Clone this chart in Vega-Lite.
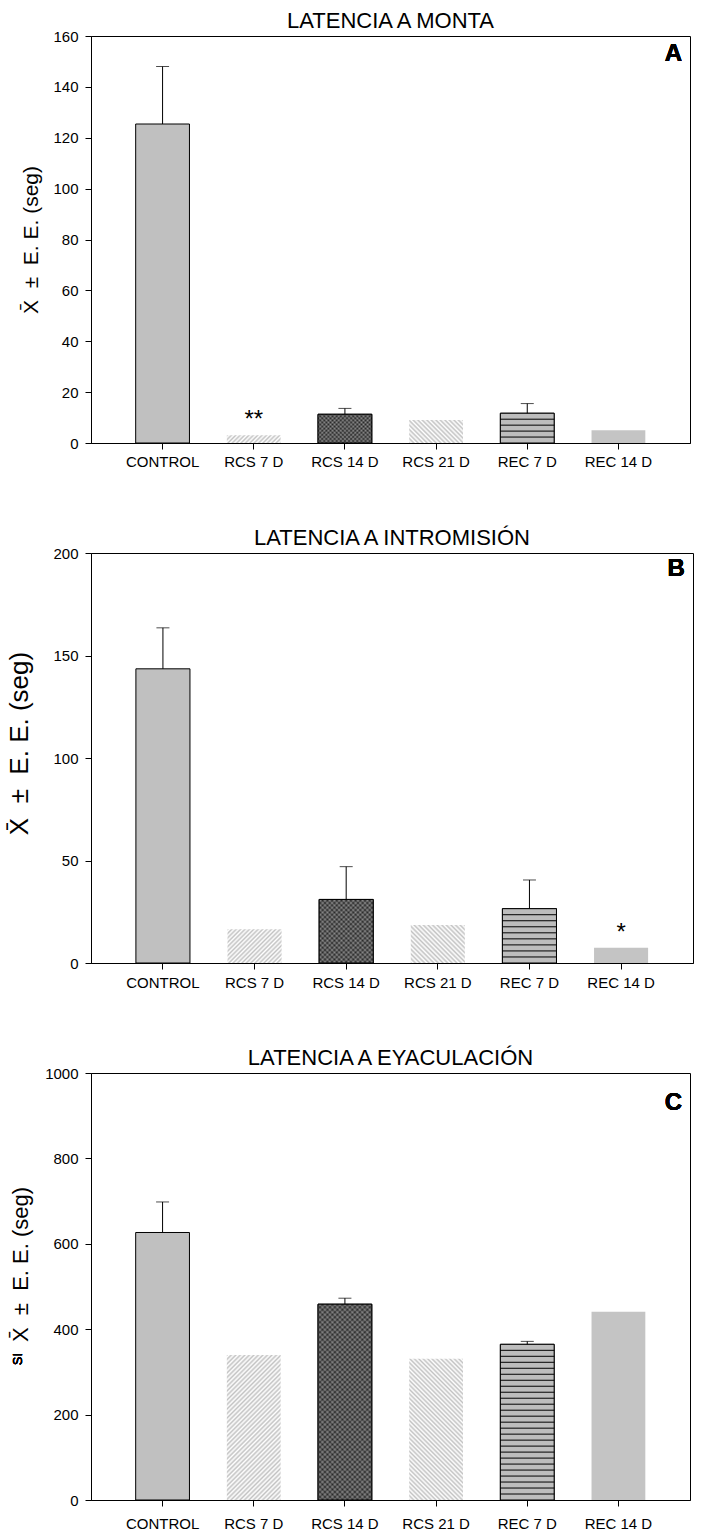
{
  "$schema": "https://vega.github.io/schema/vega-lite/v6.json",
  "background": "white",
  "padding": {"left": 5, "top": 9, "right": 5, "bottom": 5},
  "spacing": 110,
  "bounds": "flush",
  "config": {
    "font": "Liberation Sans",
    "view": {"stroke": "black", "strokeWidth": 1},
    "axis": {
      "grid": false,
      "domainColor": "black",
      "tickColor": "black",
      "tickSize": 6,
      "labelColor": "black",
      "labelFontSize": 15,
      "titleColor": "black",
      "titleFontWeight": "normal"
    },
    "axisY": {"labelPadding": 7},
    "title": {"fontSize": 22, "fontWeight": "normal", "color": "black", "offset": -4}
  },
  "datasets": {
    "monta": [
      {"grupo": "CONTROL", "media": 125.4, "sup": 148, "marca": ""},
      {"grupo": "RCS 7 D", "media": 3.0, "sup": null, "marca": "**"},
      {"grupo": "RCS 14 D", "media": 11.3, "sup": 13.6, "marca": ""},
      {"grupo": "RCS 21 D", "media": 9.0, "sup": null, "marca": ""},
      {"grupo": "REC 7 D", "media": 11.7, "sup": 15.5, "marca": ""},
      {"grupo": "REC 14 D", "media": 5.0, "sup": null, "marca": ""}
    ],
    "intromision": [
      {"grupo": "CONTROL", "media": 143.5, "sup": 163.5, "marca": ""},
      {"grupo": "RCS 7 D", "media": 16.5, "sup": null, "marca": ""},
      {"grupo": "RCS 14 D", "media": 31, "sup": 47, "marca": ""},
      {"grupo": "RCS 21 D", "media": 18.5, "sup": null, "marca": ""},
      {"grupo": "REC 7 D", "media": 26.5, "sup": 40.5, "marca": ""},
      {"grupo": "REC 14 D", "media": 7.5, "sup": null, "marca": "*"}
    ],
    "eyaculacion": [
      {"grupo": "CONTROL", "media": 626.5, "sup": 698, "marca": ""},
      {"grupo": "RCS 7 D", "media": 339.7, "sup": null, "marca": ""},
      {"grupo": "RCS 14 D", "media": 458.6, "sup": 472.6, "marca": ""},
      {"grupo": "RCS 21 D", "media": 331, "sup": null, "marca": ""},
      {"grupo": "REC 7 D", "media": 364.6, "sup": 371.5, "marca": ""},
      {"grupo": "REC 14 D", "media": 440.7, "sup": null, "marca": ""}
    ]
  },
  "vconcat": [
    {
      "width": 599,
      "height": 407,
      "title": "LATENCIA A MONTA",
      "data": {"name": "monta"},
      "encoding": {
        "x": {"field": "grupo", "type": "nominal",
              "scale": {"domain": ["CONTROL", "RCS 7 D", "RCS 14 D", "RCS 21 D", "REC 7 D", "REC 14 D"], "paddingInner": 0.41, "paddingOuter": 0.49},
              "axis": {"title": null, "labelAngle": 0, "labelPadding": 5}}
      },
      "layer": [
        {
          "mark": {"type": "bar", "strokeWidth": 1},
          "encoding": {
            "y": {"field": "media", "type": "quantitative",
                  "scale": {"domain": [0, 160], "nice": false},
                  "axis": {"values": [0, 20, 40, 60, 80, 100, 120, 140, 160], "title": "X̄\u00a0\u00a0±\u00a0\u00a0E.\u00a0E.\u00a0(seg)", "titleFontSize": 21, "titleX": -60, "titleBaseline": "middle"}},
            "fill": {"field": "grupo", "type": "nominal", "legend": null,
                     "scale": {"domain": ["CONTROL", "RCS 7 D", "RCS 14 D", "RCS 21 D", "REC 7 D", "REC 14 D"],
                               "range": ["#c0c0c0", "#ffffff", "#595959", "#ffffff", "#bdbdbd", "#c4c4c4"]}},
            "stroke": {"field": "grupo", "type": "nominal", "legend": null,
                       "scale": {"domain": ["CONTROL", "RCS 7 D", "RCS 14 D", "RCS 21 D", "REC 7 D", "REC 14 D"],
                                 "range": ["black", "transparent", "black", "transparent", "black", "transparent"]}}
          }
        },
        {
          "transform": [{"filter": "datum.grupo === 'RCS 7 D'"}],
          "mark": {"type": "bar", "fill": {"gradient": "linear", "x1": 0, "y1": 0, "x2": 1.119, "y2": 0.159, "stops": [
            {"offset": 0, "color": "#c3c3c3"}, {"offset": 0.0357, "color": "#ffffff"}, {"offset": 0.0714, "color": "#c3c3c3"}, {"offset": 0.1071, "color": "#ffffff"},
            {"offset": 0.1429, "color": "#c3c3c3"}, {"offset": 0.1786, "color": "#ffffff"}, {"offset": 0.2143, "color": "#c3c3c3"}, {"offset": 0.25, "color": "#ffffff"},
            {"offset": 0.2857, "color": "#c3c3c3"}, {"offset": 0.3214, "color": "#ffffff"}, {"offset": 0.3571, "color": "#c3c3c3"}, {"offset": 0.3929, "color": "#ffffff"},
            {"offset": 0.4286, "color": "#c3c3c3"}, {"offset": 0.4643, "color": "#ffffff"}, {"offset": 0.5, "color": "#c3c3c3"}, {"offset": 0.5357, "color": "#ffffff"},
            {"offset": 0.5714, "color": "#c3c3c3"}, {"offset": 0.6071, "color": "#ffffff"}, {"offset": 0.6429, "color": "#c3c3c3"}, {"offset": 0.6786, "color": "#ffffff"},
            {"offset": 0.7143, "color": "#c3c3c3"}, {"offset": 0.75, "color": "#ffffff"}, {"offset": 0.7857, "color": "#c3c3c3"}, {"offset": 0.8214, "color": "#ffffff"},
            {"offset": 0.8571, "color": "#c3c3c3"}, {"offset": 0.8929, "color": "#ffffff"}, {"offset": 0.9286, "color": "#c3c3c3"}, {"offset": 0.9643, "color": "#ffffff"},
            {"offset": 1, "color": "#c3c3c3"}]}},
          "encoding": {"y": {"field": "media", "type": "quantitative"}}
        },
        {
          "transform": [{"filter": "datum.grupo === 'RCS 14 D'"}],
          "mark": {"type": "bar", "fill": {"gradient": "linear", "x1": 0, "y1": 0, "x2": 1.194, "y2": 0.638, "stops": [
            {"offset": 0, "color": "#262626"}, {"offset": 0.025, "color": "#8c8c8c"}, {"offset": 0.05, "color": "#262626"}, {"offset": 0.075, "color": "#8c8c8c"},
            {"offset": 0.1, "color": "#262626"}, {"offset": 0.125, "color": "#8c8c8c"}, {"offset": 0.15, "color": "#262626"}, {"offset": 0.175, "color": "#8c8c8c"},
            {"offset": 0.2, "color": "#262626"}, {"offset": 0.225, "color": "#8c8c8c"}, {"offset": 0.25, "color": "#262626"}, {"offset": 0.275, "color": "#8c8c8c"},
            {"offset": 0.3, "color": "#262626"}, {"offset": 0.325, "color": "#8c8c8c"}, {"offset": 0.35, "color": "#262626"}, {"offset": 0.375, "color": "#8c8c8c"},
            {"offset": 0.4, "color": "#262626"}, {"offset": 0.425, "color": "#8c8c8c"}, {"offset": 0.45, "color": "#262626"}, {"offset": 0.475, "color": "#8c8c8c"},
            {"offset": 0.5, "color": "#262626"}, {"offset": 0.525, "color": "#8c8c8c"}, {"offset": 0.55, "color": "#262626"}, {"offset": 0.575, "color": "#8c8c8c"},
            {"offset": 0.6, "color": "#262626"}, {"offset": 0.625, "color": "#8c8c8c"}, {"offset": 0.65, "color": "#262626"}, {"offset": 0.675, "color": "#8c8c8c"},
            {"offset": 0.7, "color": "#262626"}, {"offset": 0.725, "color": "#8c8c8c"}, {"offset": 0.75, "color": "#262626"}, {"offset": 0.775, "color": "#8c8c8c"},
            {"offset": 0.8, "color": "#262626"}, {"offset": 0.825, "color": "#8c8c8c"}, {"offset": 0.85, "color": "#262626"}, {"offset": 0.875, "color": "#8c8c8c"},
            {"offset": 0.9, "color": "#262626"}, {"offset": 0.925, "color": "#8c8c8c"}, {"offset": 0.95, "color": "#262626"}, {"offset": 0.975, "color": "#8c8c8c"},
            {"offset": 1, "color": "#262626"}]}},
          "encoding": {"y": {"field": "media", "type": "quantitative"}}
        },
        {
          "transform": [{"filter": "datum.grupo === 'RCS 14 D'"}],
          "mark": {"type": "bar", "fillOpacity": 0.5, "stroke": "black", "strokeWidth": 1, "fill": {"gradient": "linear", "x1": 0, "y1": 1, "x2": 1.194, "y2": 0.362, "stops": [
            {"offset": 0, "color": "#262626"}, {"offset": 0.025, "color": "#8c8c8c"}, {"offset": 0.05, "color": "#262626"}, {"offset": 0.075, "color": "#8c8c8c"},
            {"offset": 0.1, "color": "#262626"}, {"offset": 0.125, "color": "#8c8c8c"}, {"offset": 0.15, "color": "#262626"}, {"offset": 0.175, "color": "#8c8c8c"},
            {"offset": 0.2, "color": "#262626"}, {"offset": 0.225, "color": "#8c8c8c"}, {"offset": 0.25, "color": "#262626"}, {"offset": 0.275, "color": "#8c8c8c"},
            {"offset": 0.3, "color": "#262626"}, {"offset": 0.325, "color": "#8c8c8c"}, {"offset": 0.35, "color": "#262626"}, {"offset": 0.375, "color": "#8c8c8c"},
            {"offset": 0.4, "color": "#262626"}, {"offset": 0.425, "color": "#8c8c8c"}, {"offset": 0.45, "color": "#262626"}, {"offset": 0.475, "color": "#8c8c8c"},
            {"offset": 0.5, "color": "#262626"}, {"offset": 0.525, "color": "#8c8c8c"}, {"offset": 0.55, "color": "#262626"}, {"offset": 0.575, "color": "#8c8c8c"},
            {"offset": 0.6, "color": "#262626"}, {"offset": 0.625, "color": "#8c8c8c"}, {"offset": 0.65, "color": "#262626"}, {"offset": 0.675, "color": "#8c8c8c"},
            {"offset": 0.7, "color": "#262626"}, {"offset": 0.725, "color": "#8c8c8c"}, {"offset": 0.75, "color": "#262626"}, {"offset": 0.775, "color": "#8c8c8c"},
            {"offset": 0.8, "color": "#262626"}, {"offset": 0.825, "color": "#8c8c8c"}, {"offset": 0.85, "color": "#262626"}, {"offset": 0.875, "color": "#8c8c8c"},
            {"offset": 0.9, "color": "#262626"}, {"offset": 0.925, "color": "#8c8c8c"}, {"offset": 0.95, "color": "#262626"}, {"offset": 0.975, "color": "#8c8c8c"},
            {"offset": 1, "color": "#262626"}]}},
          "encoding": {"y": {"field": "media", "type": "quantitative"}}
        },
        {
          "transform": [{"filter": "datum.grupo === 'RCS 21 D'"}],
          "mark": {"type": "bar", "fill": {"gradient": "linear", "x1": 0, "y1": 1, "x2": 1.207, "y2": 0.486, "stops": [
            {"offset": 0, "color": "#c3c3c3"}, {"offset": 0.0294, "color": "#ffffff"}, {"offset": 0.0588, "color": "#c3c3c3"}, {"offset": 0.0882, "color": "#ffffff"},
            {"offset": 0.1176, "color": "#c3c3c3"}, {"offset": 0.1471, "color": "#ffffff"}, {"offset": 0.1765, "color": "#c3c3c3"}, {"offset": 0.2059, "color": "#ffffff"},
            {"offset": 0.2353, "color": "#c3c3c3"}, {"offset": 0.2647, "color": "#ffffff"}, {"offset": 0.2941, "color": "#c3c3c3"}, {"offset": 0.3235, "color": "#ffffff"},
            {"offset": 0.3529, "color": "#c3c3c3"}, {"offset": 0.3824, "color": "#ffffff"}, {"offset": 0.4118, "color": "#c3c3c3"}, {"offset": 0.4412, "color": "#ffffff"},
            {"offset": 0.4706, "color": "#c3c3c3"}, {"offset": 0.5, "color": "#ffffff"}, {"offset": 0.5294, "color": "#c3c3c3"}, {"offset": 0.5588, "color": "#ffffff"},
            {"offset": 0.5882, "color": "#c3c3c3"}, {"offset": 0.6176, "color": "#ffffff"}, {"offset": 0.6471, "color": "#c3c3c3"}, {"offset": 0.6765, "color": "#ffffff"},
            {"offset": 0.7059, "color": "#c3c3c3"}, {"offset": 0.7353, "color": "#ffffff"}, {"offset": 0.7647, "color": "#c3c3c3"}, {"offset": 0.7941, "color": "#ffffff"},
            {"offset": 0.8235, "color": "#c3c3c3"}, {"offset": 0.8529, "color": "#ffffff"}, {"offset": 0.8824, "color": "#c3c3c3"}, {"offset": 0.9118, "color": "#ffffff"},
            {"offset": 0.9412, "color": "#c3c3c3"}, {"offset": 0.9706, "color": "#ffffff"}, {"offset": 1, "color": "#c3c3c3"}]}},
          "encoding": {"y": {"field": "media", "type": "quantitative"}}
        },
        {
          "transform": [{"filter": "datum.grupo === 'REC 7 D'"}],
          "mark": {"type": "bar", "stroke": "black", "strokeWidth": 1, "fill": {"gradient": "linear", "x1": 0, "y1": 0, "x2": 0, "y2": 1, "stops": [
            {"offset": 0, "color": "#bdbdbd"},
            {"offset": 0.1664, "color": "#bdbdbd"}, {"offset": 0.2, "color": "#000000"}, {"offset": 0.2336, "color": "#bdbdbd"},
            {"offset": 0.3664, "color": "#bdbdbd"}, {"offset": 0.4, "color": "#000000"}, {"offset": 0.4336, "color": "#bdbdbd"},
            {"offset": 0.5664, "color": "#bdbdbd"}, {"offset": 0.6, "color": "#000000"}, {"offset": 0.6336, "color": "#bdbdbd"},
            {"offset": 0.7664, "color": "#bdbdbd"}, {"offset": 0.8, "color": "#000000"}, {"offset": 0.8336, "color": "#bdbdbd"},
            {"offset": 1, "color": "#bdbdbd"}]}},
          "encoding": {"y": {"field": "media", "type": "quantitative"}}
        },
        {
          "transform": [{"filter": "isValid(datum.sup)"}],
          "mark": {"type": "rule", "color": "black", "strokeWidth": 1},
          "encoding": {"y": {"field": "media", "type": "quantitative"}, "y2": {"field": "sup"}}
        },
        {
          "transform": [{"filter": "isValid(datum.sup)"}],
          "mark": {"type": "tick", "color": "black", "size": 13, "thickness": 1, "orient": "horizontal"},
          "encoding": {"y": {"field": "sup", "type": "quantitative"}}
        },
        {
          "mark": {"type": "text", "fontSize": 24, "baseline": "middle", "dy": -15},
          "encoding": {"y": {"field": "media", "type": "quantitative"}, "text": {"field": "marca"}}
        },
        {
          "mark": {"type": "text", "fontSize": 24, "fontWeight": "bold", "align": "center", "baseline": "middle", "dx": 55, "dy": 18},
          "encoding": {"x": {"datum": "REC 14 D"}, "y": {"datum": 160}, "text": {"value": "A"}}
        }
      ]
    },
    {
      "width": 602,
      "height": 410,
      "title": "LATENCIA A INTROMISIÓN",
      "data": {"name": "intromision"},
      "encoding": {
        "x": {"field": "grupo", "type": "nominal",
              "scale": {"domain": ["CONTROL", "RCS 7 D", "RCS 14 D", "RCS 21 D", "REC 7 D", "REC 14 D"], "paddingInner": 0.41, "paddingOuter": 0.49},
              "axis": {"title": null, "labelAngle": 0, "labelPadding": 6}}
      },
      "layer": [
        {
          "mark": {"type": "bar", "strokeWidth": 1},
          "encoding": {
            "y": {"field": "media", "type": "quantitative",
                  "scale": {"domain": [0, 200], "nice": false},
                  "axis": {"values": [0, 50, 100, 150, 200], "title": "X̄\u00a0\u00a0±\u00a0\u00a0E.\u00a0E.\u00a0(seg)", "titleFontSize": 26, "titleX": -72, "titleY": 190, "titleBaseline": "middle"}},
            "fill": {"field": "grupo", "type": "nominal", "legend": null,
                     "scale": {"domain": ["CONTROL", "RCS 7 D", "RCS 14 D", "RCS 21 D", "REC 7 D", "REC 14 D"],
                               "range": ["#c0c0c0", "#ffffff", "#595959", "#ffffff", "#bdbdbd", "#c4c4c4"]}},
            "stroke": {"field": "grupo", "type": "nominal", "legend": null,
                       "scale": {"domain": ["CONTROL", "RCS 7 D", "RCS 14 D", "RCS 21 D", "REC 7 D", "REC 14 D"],
                                 "range": ["black", "transparent", "black", "transparent", "black", "transparent"]}}
          }
        },
        {
          "transform": [{"filter": "datum.grupo === 'RCS 7 D'"}],
          "mark": {"type": "bar", "fill": {"gradient": "linear", "x1": 0, "y1": 0, "x2": 1.168, "y2": 0.731, "stops": [
            {"offset": 0, "color": "#c3c3c3"}, {"offset": 0.025, "color": "#ffffff"}, {"offset": 0.05, "color": "#c3c3c3"}, {"offset": 0.075, "color": "#ffffff"},
            {"offset": 0.1, "color": "#c3c3c3"}, {"offset": 0.125, "color": "#ffffff"}, {"offset": 0.15, "color": "#c3c3c3"}, {"offset": 0.175, "color": "#ffffff"},
            {"offset": 0.2, "color": "#c3c3c3"}, {"offset": 0.225, "color": "#ffffff"}, {"offset": 0.25, "color": "#c3c3c3"}, {"offset": 0.275, "color": "#ffffff"},
            {"offset": 0.3, "color": "#c3c3c3"}, {"offset": 0.325, "color": "#ffffff"}, {"offset": 0.35, "color": "#c3c3c3"}, {"offset": 0.375, "color": "#ffffff"},
            {"offset": 0.4, "color": "#c3c3c3"}, {"offset": 0.425, "color": "#ffffff"}, {"offset": 0.45, "color": "#c3c3c3"}, {"offset": 0.475, "color": "#ffffff"},
            {"offset": 0.5, "color": "#c3c3c3"}, {"offset": 0.525, "color": "#ffffff"}, {"offset": 0.55, "color": "#c3c3c3"}, {"offset": 0.575, "color": "#ffffff"},
            {"offset": 0.6, "color": "#c3c3c3"}, {"offset": 0.625, "color": "#ffffff"}, {"offset": 0.65, "color": "#c3c3c3"}, {"offset": 0.675, "color": "#ffffff"},
            {"offset": 0.7, "color": "#c3c3c3"}, {"offset": 0.725, "color": "#ffffff"}, {"offset": 0.75, "color": "#c3c3c3"}, {"offset": 0.775, "color": "#ffffff"},
            {"offset": 0.8, "color": "#c3c3c3"}, {"offset": 0.825, "color": "#ffffff"}, {"offset": 0.85, "color": "#c3c3c3"}, {"offset": 0.875, "color": "#ffffff"},
            {"offset": 0.9, "color": "#c3c3c3"}, {"offset": 0.925, "color": "#ffffff"}, {"offset": 0.95, "color": "#c3c3c3"}, {"offset": 0.975, "color": "#ffffff"},
            {"offset": 1, "color": "#c3c3c3"}]}},
          "encoding": {"y": {"field": "media", "type": "quantitative"}}
        },
        {
          "transform": [{"filter": "datum.grupo === 'RCS 14 D'"}],
          "mark": {"type": "bar", "fill": {"gradient": "linear", "x1": 0, "y1": 0, "x2": 0.913, "y2": 1.074, "stops": [
            {"offset": 0, "color": "#262626"}, {"offset": 0.02, "color": "#8c8c8c"}, {"offset": 0.04, "color": "#262626"}, {"offset": 0.06, "color": "#8c8c8c"},
            {"offset": 0.08, "color": "#262626"}, {"offset": 0.1, "color": "#8c8c8c"}, {"offset": 0.12, "color": "#262626"}, {"offset": 0.14, "color": "#8c8c8c"},
            {"offset": 0.16, "color": "#262626"}, {"offset": 0.18, "color": "#8c8c8c"}, {"offset": 0.2, "color": "#262626"}, {"offset": 0.22, "color": "#8c8c8c"},
            {"offset": 0.24, "color": "#262626"}, {"offset": 0.26, "color": "#8c8c8c"}, {"offset": 0.28, "color": "#262626"}, {"offset": 0.3, "color": "#8c8c8c"},
            {"offset": 0.32, "color": "#262626"}, {"offset": 0.34, "color": "#8c8c8c"}, {"offset": 0.36, "color": "#262626"}, {"offset": 0.38, "color": "#8c8c8c"},
            {"offset": 0.4, "color": "#262626"}, {"offset": 0.42, "color": "#8c8c8c"}, {"offset": 0.44, "color": "#262626"}, {"offset": 0.46, "color": "#8c8c8c"},
            {"offset": 0.48, "color": "#262626"}, {"offset": 0.5, "color": "#8c8c8c"}, {"offset": 0.52, "color": "#262626"}, {"offset": 0.54, "color": "#8c8c8c"},
            {"offset": 0.56, "color": "#262626"}, {"offset": 0.58, "color": "#8c8c8c"}, {"offset": 0.6, "color": "#262626"}, {"offset": 0.62, "color": "#8c8c8c"},
            {"offset": 0.64, "color": "#262626"}, {"offset": 0.66, "color": "#8c8c8c"}, {"offset": 0.68, "color": "#262626"}, {"offset": 0.7, "color": "#8c8c8c"},
            {"offset": 0.72, "color": "#262626"}, {"offset": 0.74, "color": "#8c8c8c"}, {"offset": 0.76, "color": "#262626"}, {"offset": 0.78, "color": "#8c8c8c"},
            {"offset": 0.8, "color": "#262626"}, {"offset": 0.82, "color": "#8c8c8c"}, {"offset": 0.84, "color": "#262626"}, {"offset": 0.86, "color": "#8c8c8c"},
            {"offset": 0.88, "color": "#262626"}, {"offset": 0.9, "color": "#8c8c8c"}, {"offset": 0.92, "color": "#262626"}, {"offset": 0.94, "color": "#8c8c8c"},
            {"offset": 0.96, "color": "#262626"}, {"offset": 0.98, "color": "#8c8c8c"}, {"offset": 1, "color": "#262626"}]}},
          "encoding": {"y": {"field": "media", "type": "quantitative"}}
        },
        {
          "transform": [{"filter": "datum.grupo === 'RCS 14 D'"}],
          "mark": {"type": "bar", "fillOpacity": 0.5, "stroke": "black", "strokeWidth": 1, "fill": {"gradient": "linear", "x1": 0, "y1": 1, "x2": 0.913, "y2": -0.074, "stops": [
            {"offset": 0, "color": "#262626"}, {"offset": 0.02, "color": "#8c8c8c"}, {"offset": 0.04, "color": "#262626"}, {"offset": 0.06, "color": "#8c8c8c"},
            {"offset": 0.08, "color": "#262626"}, {"offset": 0.1, "color": "#8c8c8c"}, {"offset": 0.12, "color": "#262626"}, {"offset": 0.14, "color": "#8c8c8c"},
            {"offset": 0.16, "color": "#262626"}, {"offset": 0.18, "color": "#8c8c8c"}, {"offset": 0.2, "color": "#262626"}, {"offset": 0.22, "color": "#8c8c8c"},
            {"offset": 0.24, "color": "#262626"}, {"offset": 0.26, "color": "#8c8c8c"}, {"offset": 0.28, "color": "#262626"}, {"offset": 0.3, "color": "#8c8c8c"},
            {"offset": 0.32, "color": "#262626"}, {"offset": 0.34, "color": "#8c8c8c"}, {"offset": 0.36, "color": "#262626"}, {"offset": 0.38, "color": "#8c8c8c"},
            {"offset": 0.4, "color": "#262626"}, {"offset": 0.42, "color": "#8c8c8c"}, {"offset": 0.44, "color": "#262626"}, {"offset": 0.46, "color": "#8c8c8c"},
            {"offset": 0.48, "color": "#262626"}, {"offset": 0.5, "color": "#8c8c8c"}, {"offset": 0.52, "color": "#262626"}, {"offset": 0.54, "color": "#8c8c8c"},
            {"offset": 0.56, "color": "#262626"}, {"offset": 0.58, "color": "#8c8c8c"}, {"offset": 0.6, "color": "#262626"}, {"offset": 0.62, "color": "#8c8c8c"},
            {"offset": 0.64, "color": "#262626"}, {"offset": 0.66, "color": "#8c8c8c"}, {"offset": 0.68, "color": "#262626"}, {"offset": 0.7, "color": "#8c8c8c"},
            {"offset": 0.72, "color": "#262626"}, {"offset": 0.74, "color": "#8c8c8c"}, {"offset": 0.76, "color": "#262626"}, {"offset": 0.78, "color": "#8c8c8c"},
            {"offset": 0.8, "color": "#262626"}, {"offset": 0.82, "color": "#8c8c8c"}, {"offset": 0.84, "color": "#262626"}, {"offset": 0.86, "color": "#8c8c8c"},
            {"offset": 0.88, "color": "#262626"}, {"offset": 0.9, "color": "#8c8c8c"}, {"offset": 0.92, "color": "#262626"}, {"offset": 0.94, "color": "#8c8c8c"},
            {"offset": 0.96, "color": "#262626"}, {"offset": 0.98, "color": "#8c8c8c"}, {"offset": 1, "color": "#262626"}]}},
          "encoding": {"y": {"field": "media", "type": "quantitative"}}
        },
        {
          "transform": [{"filter": "datum.grupo === 'RCS 21 D'"}],
          "mark": {"type": "bar", "fill": {"gradient": "linear", "x1": 0, "y1": 1, "x2": 1.14, "y2": 0.2, "stops": [
            {"offset": 0, "color": "#c3c3c3"}, {"offset": 0.025, "color": "#ffffff"}, {"offset": 0.05, "color": "#c3c3c3"}, {"offset": 0.075, "color": "#ffffff"},
            {"offset": 0.1, "color": "#c3c3c3"}, {"offset": 0.125, "color": "#ffffff"}, {"offset": 0.15, "color": "#c3c3c3"}, {"offset": 0.175, "color": "#ffffff"},
            {"offset": 0.2, "color": "#c3c3c3"}, {"offset": 0.225, "color": "#ffffff"}, {"offset": 0.25, "color": "#c3c3c3"}, {"offset": 0.275, "color": "#ffffff"},
            {"offset": 0.3, "color": "#c3c3c3"}, {"offset": 0.325, "color": "#ffffff"}, {"offset": 0.35, "color": "#c3c3c3"}, {"offset": 0.375, "color": "#ffffff"},
            {"offset": 0.4, "color": "#c3c3c3"}, {"offset": 0.425, "color": "#ffffff"}, {"offset": 0.45, "color": "#c3c3c3"}, {"offset": 0.475, "color": "#ffffff"},
            {"offset": 0.5, "color": "#c3c3c3"}, {"offset": 0.525, "color": "#ffffff"}, {"offset": 0.55, "color": "#c3c3c3"}, {"offset": 0.575, "color": "#ffffff"},
            {"offset": 0.6, "color": "#c3c3c3"}, {"offset": 0.625, "color": "#ffffff"}, {"offset": 0.65, "color": "#c3c3c3"}, {"offset": 0.675, "color": "#ffffff"},
            {"offset": 0.7, "color": "#c3c3c3"}, {"offset": 0.725, "color": "#ffffff"}, {"offset": 0.75, "color": "#c3c3c3"}, {"offset": 0.775, "color": "#ffffff"},
            {"offset": 0.8, "color": "#c3c3c3"}, {"offset": 0.825, "color": "#ffffff"}, {"offset": 0.85, "color": "#c3c3c3"}, {"offset": 0.875, "color": "#ffffff"},
            {"offset": 0.9, "color": "#c3c3c3"}, {"offset": 0.925, "color": "#ffffff"}, {"offset": 0.95, "color": "#c3c3c3"}, {"offset": 0.975, "color": "#ffffff"},
            {"offset": 1, "color": "#c3c3c3"}]}},
          "encoding": {"y": {"field": "media", "type": "quantitative"}}
        },
        {
          "transform": [{"filter": "datum.grupo === 'REC 7 D'"}],
          "mark": {"type": "bar", "stroke": "black", "strokeWidth": 1, "fill": {"gradient": "linear", "x1": 0, "y1": 0, "x2": 0, "y2": 1, "stops": [
            {"offset": 0, "color": "#bdbdbd"},
            {"offset": 0.0927, "color": "#bdbdbd"}, {"offset": 0.1111, "color": "#000000"}, {"offset": 0.1295, "color": "#bdbdbd"},
            {"offset": 0.2038, "color": "#bdbdbd"}, {"offset": 0.2222, "color": "#000000"}, {"offset": 0.2406, "color": "#bdbdbd"},
            {"offset": 0.3149, "color": "#bdbdbd"}, {"offset": 0.3333, "color": "#000000"}, {"offset": 0.3517, "color": "#bdbdbd"},
            {"offset": 0.426, "color": "#bdbdbd"}, {"offset": 0.4444, "color": "#000000"}, {"offset": 0.4628, "color": "#bdbdbd"},
            {"offset": 0.5372, "color": "#bdbdbd"}, {"offset": 0.5556, "color": "#000000"}, {"offset": 0.574, "color": "#bdbdbd"},
            {"offset": 0.6483, "color": "#bdbdbd"}, {"offset": 0.6667, "color": "#000000"}, {"offset": 0.6851, "color": "#bdbdbd"},
            {"offset": 0.7594, "color": "#bdbdbd"}, {"offset": 0.7778, "color": "#000000"}, {"offset": 0.7962, "color": "#bdbdbd"},
            {"offset": 0.8705, "color": "#bdbdbd"}, {"offset": 0.8889, "color": "#000000"}, {"offset": 0.9073, "color": "#bdbdbd"},
            {"offset": 1, "color": "#bdbdbd"}]}},
          "encoding": {"y": {"field": "media", "type": "quantitative"}}
        },
        {
          "transform": [{"filter": "isValid(datum.sup)"}],
          "mark": {"type": "rule", "color": "black", "strokeWidth": 1},
          "encoding": {"y": {"field": "media", "type": "quantitative"}, "y2": {"field": "sup"}}
        },
        {
          "transform": [{"filter": "isValid(datum.sup)"}],
          "mark": {"type": "tick", "color": "black", "size": 13, "thickness": 1, "orient": "horizontal"},
          "encoding": {"y": {"field": "sup", "type": "quantitative"}}
        },
        {
          "mark": {"type": "text", "fontSize": 24, "baseline": "middle", "dy": -15},
          "encoding": {"y": {"field": "media", "type": "quantitative"}, "text": {"field": "marca"}}
        },
        {
          "mark": {"type": "text", "fontSize": 24, "fontWeight": "bold", "align": "center", "baseline": "middle", "dx": 55, "dy": 16},
          "encoding": {"x": {"datum": "REC 14 D"}, "y": {"datum": 200}, "text": {"value": "B"}}
        }
      ]
    },
    {
      "width": 599,
      "height": 427,
      "title": "LATENCIA A EYACULACIÓN",
      "data": {"name": "eyaculacion"},
      "encoding": {
        "x": {"field": "grupo", "type": "nominal",
              "scale": {"domain": ["CONTROL", "RCS 7 D", "RCS 14 D", "RCS 21 D", "REC 7 D", "REC 14 D"], "paddingInner": 0.41, "paddingOuter": 0.49},
              "axis": {"title": null, "labelAngle": 0, "labelPadding": 10}}
      },
      "layer": [
        {
          "mark": {"type": "bar", "strokeWidth": 1},
          "encoding": {
            "y": {"field": "media", "type": "quantitative",
                  "scale": {"domain": [0, 1000], "nice": false},
                  "axis": {"values": [0, 200, 400, 600, 800, 1000], "format": "d", "title": "X̄\u00a0\u00a0±\u00a0\u00a0E.\u00a0E.\u00a0(seg)", "titleFontSize": 22, "titleX": -71, "titleY": 191, "titleBaseline": "middle"}},
            "fill": {"field": "grupo", "type": "nominal", "legend": null,
                     "scale": {"domain": ["CONTROL", "RCS 7 D", "RCS 14 D", "RCS 21 D", "REC 7 D", "REC 14 D"],
                               "range": ["#c0c0c0", "#ffffff", "#595959", "#ffffff", "#bdbdbd", "#c4c4c4"]}},
            "stroke": {"field": "grupo", "type": "nominal", "legend": null,
                       "scale": {"domain": ["CONTROL", "RCS 7 D", "RCS 14 D", "RCS 21 D", "REC 7 D", "REC 14 D"],
                                 "range": ["black", "transparent", "black", "transparent", "black", "transparent"]}}
          }
        },
        {
          "transform": [{"filter": "datum.grupo === 'RCS 7 D'"}],
          "mark": {"type": "bar", "fill": {"gradient": "linear", "x1": 0, "y1": 0, "x2": 0.447, "y2": 1.205, "stops": [
            {"offset": 0, "color": "#c3c3c3"}, {"offset": 0.0114, "color": "#ffffff"}, {"offset": 0.0227, "color": "#c3c3c3"}, {"offset": 0.0341, "color": "#ffffff"},
            {"offset": 0.0455, "color": "#c3c3c3"}, {"offset": 0.0568, "color": "#ffffff"}, {"offset": 0.0682, "color": "#c3c3c3"}, {"offset": 0.0795, "color": "#ffffff"},
            {"offset": 0.0909, "color": "#c3c3c3"}, {"offset": 0.1023, "color": "#ffffff"}, {"offset": 0.1136, "color": "#c3c3c3"}, {"offset": 0.125, "color": "#ffffff"},
            {"offset": 0.1364, "color": "#c3c3c3"}, {"offset": 0.1477, "color": "#ffffff"}, {"offset": 0.1591, "color": "#c3c3c3"}, {"offset": 0.1705, "color": "#ffffff"},
            {"offset": 0.1818, "color": "#c3c3c3"}, {"offset": 0.1932, "color": "#ffffff"}, {"offset": 0.2045, "color": "#c3c3c3"}, {"offset": 0.2159, "color": "#ffffff"},
            {"offset": 0.2273, "color": "#c3c3c3"}, {"offset": 0.2386, "color": "#ffffff"}, {"offset": 0.25, "color": "#c3c3c3"}, {"offset": 0.2614, "color": "#ffffff"},
            {"offset": 0.2727, "color": "#c3c3c3"}, {"offset": 0.2841, "color": "#ffffff"}, {"offset": 0.2955, "color": "#c3c3c3"}, {"offset": 0.3068, "color": "#ffffff"},
            {"offset": 0.3182, "color": "#c3c3c3"}, {"offset": 0.3295, "color": "#ffffff"}, {"offset": 0.3409, "color": "#c3c3c3"}, {"offset": 0.3523, "color": "#ffffff"},
            {"offset": 0.3636, "color": "#c3c3c3"}, {"offset": 0.375, "color": "#ffffff"}, {"offset": 0.3864, "color": "#c3c3c3"}, {"offset": 0.3977, "color": "#ffffff"},
            {"offset": 0.4091, "color": "#c3c3c3"}, {"offset": 0.4205, "color": "#ffffff"}, {"offset": 0.4318, "color": "#c3c3c3"}, {"offset": 0.4432, "color": "#ffffff"},
            {"offset": 0.4545, "color": "#c3c3c3"}, {"offset": 0.4659, "color": "#ffffff"}, {"offset": 0.4773, "color": "#c3c3c3"}, {"offset": 0.4886, "color": "#ffffff"},
            {"offset": 0.5, "color": "#c3c3c3"}, {"offset": 0.5114, "color": "#ffffff"}, {"offset": 0.5227, "color": "#c3c3c3"}, {"offset": 0.5341, "color": "#ffffff"},
            {"offset": 0.5455, "color": "#c3c3c3"}, {"offset": 0.5568, "color": "#ffffff"}, {"offset": 0.5682, "color": "#c3c3c3"}, {"offset": 0.5795, "color": "#ffffff"},
            {"offset": 0.5909, "color": "#c3c3c3"}, {"offset": 0.6023, "color": "#ffffff"}, {"offset": 0.6136, "color": "#c3c3c3"}, {"offset": 0.625, "color": "#ffffff"},
            {"offset": 0.6364, "color": "#c3c3c3"}, {"offset": 0.6477, "color": "#ffffff"}, {"offset": 0.6591, "color": "#c3c3c3"}, {"offset": 0.6705, "color": "#ffffff"},
            {"offset": 0.6818, "color": "#c3c3c3"}, {"offset": 0.6932, "color": "#ffffff"}, {"offset": 0.7045, "color": "#c3c3c3"}, {"offset": 0.7159, "color": "#ffffff"},
            {"offset": 0.7273, "color": "#c3c3c3"}, {"offset": 0.7386, "color": "#ffffff"}, {"offset": 0.75, "color": "#c3c3c3"}, {"offset": 0.7614, "color": "#ffffff"},
            {"offset": 0.7727, "color": "#c3c3c3"}, {"offset": 0.7841, "color": "#ffffff"}, {"offset": 0.7955, "color": "#c3c3c3"}, {"offset": 0.8068, "color": "#ffffff"},
            {"offset": 0.8182, "color": "#c3c3c3"}, {"offset": 0.8295, "color": "#ffffff"}, {"offset": 0.8409, "color": "#c3c3c3"}, {"offset": 0.8523, "color": "#ffffff"},
            {"offset": 0.8636, "color": "#c3c3c3"}, {"offset": 0.875, "color": "#ffffff"}, {"offset": 0.8864, "color": "#c3c3c3"}, {"offset": 0.8977, "color": "#ffffff"},
            {"offset": 0.9091, "color": "#c3c3c3"}, {"offset": 0.9205, "color": "#ffffff"}, {"offset": 0.9318, "color": "#c3c3c3"}, {"offset": 0.9432, "color": "#ffffff"},
            {"offset": 0.9545, "color": "#c3c3c3"}, {"offset": 0.9659, "color": "#ffffff"}, {"offset": 0.9773, "color": "#c3c3c3"}, {"offset": 0.9886, "color": "#ffffff"},
            {"offset": 1, "color": "#c3c3c3"}]}},
          "encoding": {"y": {"field": "media", "type": "quantitative"}}
        },
        {
          "transform": [{"filter": "datum.grupo === 'RCS 14 D'"}],
          "mark": {"type": "bar", "fill": {"gradient": "linear", "x1": 0, "y1": 0, "x2": 0.326, "y2": 1.185, "stops": [
            {"offset": 0, "color": "#262626"}, {"offset": 0.01, "color": "#8c8c8c"}, {"offset": 0.02, "color": "#262626"}, {"offset": 0.03, "color": "#8c8c8c"},
            {"offset": 0.04, "color": "#262626"}, {"offset": 0.05, "color": "#8c8c8c"}, {"offset": 0.06, "color": "#262626"}, {"offset": 0.07, "color": "#8c8c8c"},
            {"offset": 0.08, "color": "#262626"}, {"offset": 0.09, "color": "#8c8c8c"}, {"offset": 0.1, "color": "#262626"}, {"offset": 0.11, "color": "#8c8c8c"},
            {"offset": 0.12, "color": "#262626"}, {"offset": 0.13, "color": "#8c8c8c"}, {"offset": 0.14, "color": "#262626"}, {"offset": 0.15, "color": "#8c8c8c"},
            {"offset": 0.16, "color": "#262626"}, {"offset": 0.17, "color": "#8c8c8c"}, {"offset": 0.18, "color": "#262626"}, {"offset": 0.19, "color": "#8c8c8c"},
            {"offset": 0.2, "color": "#262626"}, {"offset": 0.21, "color": "#8c8c8c"}, {"offset": 0.22, "color": "#262626"}, {"offset": 0.23, "color": "#8c8c8c"},
            {"offset": 0.24, "color": "#262626"}, {"offset": 0.25, "color": "#8c8c8c"}, {"offset": 0.26, "color": "#262626"}, {"offset": 0.27, "color": "#8c8c8c"},
            {"offset": 0.28, "color": "#262626"}, {"offset": 0.29, "color": "#8c8c8c"}, {"offset": 0.3, "color": "#262626"}, {"offset": 0.31, "color": "#8c8c8c"},
            {"offset": 0.32, "color": "#262626"}, {"offset": 0.33, "color": "#8c8c8c"}, {"offset": 0.34, "color": "#262626"}, {"offset": 0.35, "color": "#8c8c8c"},
            {"offset": 0.36, "color": "#262626"}, {"offset": 0.37, "color": "#8c8c8c"}, {"offset": 0.38, "color": "#262626"}, {"offset": 0.39, "color": "#8c8c8c"},
            {"offset": 0.4, "color": "#262626"}, {"offset": 0.41, "color": "#8c8c8c"}, {"offset": 0.42, "color": "#262626"}, {"offset": 0.43, "color": "#8c8c8c"},
            {"offset": 0.44, "color": "#262626"}, {"offset": 0.45, "color": "#8c8c8c"}, {"offset": 0.46, "color": "#262626"}, {"offset": 0.47, "color": "#8c8c8c"},
            {"offset": 0.48, "color": "#262626"}, {"offset": 0.49, "color": "#8c8c8c"}, {"offset": 0.5, "color": "#262626"}, {"offset": 0.51, "color": "#8c8c8c"},
            {"offset": 0.52, "color": "#262626"}, {"offset": 0.53, "color": "#8c8c8c"}, {"offset": 0.54, "color": "#262626"}, {"offset": 0.55, "color": "#8c8c8c"},
            {"offset": 0.56, "color": "#262626"}, {"offset": 0.57, "color": "#8c8c8c"}, {"offset": 0.58, "color": "#262626"}, {"offset": 0.59, "color": "#8c8c8c"},
            {"offset": 0.6, "color": "#262626"}, {"offset": 0.61, "color": "#8c8c8c"}, {"offset": 0.62, "color": "#262626"}, {"offset": 0.63, "color": "#8c8c8c"},
            {"offset": 0.64, "color": "#262626"}, {"offset": 0.65, "color": "#8c8c8c"}, {"offset": 0.66, "color": "#262626"}, {"offset": 0.67, "color": "#8c8c8c"},
            {"offset": 0.68, "color": "#262626"}, {"offset": 0.69, "color": "#8c8c8c"}, {"offset": 0.7, "color": "#262626"}, {"offset": 0.71, "color": "#8c8c8c"},
            {"offset": 0.72, "color": "#262626"}, {"offset": 0.73, "color": "#8c8c8c"}, {"offset": 0.74, "color": "#262626"}, {"offset": 0.75, "color": "#8c8c8c"},
            {"offset": 0.76, "color": "#262626"}, {"offset": 0.77, "color": "#8c8c8c"}, {"offset": 0.78, "color": "#262626"}, {"offset": 0.79, "color": "#8c8c8c"},
            {"offset": 0.8, "color": "#262626"}, {"offset": 0.81, "color": "#8c8c8c"}, {"offset": 0.82, "color": "#262626"}, {"offset": 0.83, "color": "#8c8c8c"},
            {"offset": 0.84, "color": "#262626"}, {"offset": 0.85, "color": "#8c8c8c"}, {"offset": 0.86, "color": "#262626"}, {"offset": 0.87, "color": "#8c8c8c"},
            {"offset": 0.88, "color": "#262626"}, {"offset": 0.89, "color": "#8c8c8c"}, {"offset": 0.9, "color": "#262626"}, {"offset": 0.91, "color": "#8c8c8c"},
            {"offset": 0.92, "color": "#262626"}, {"offset": 0.93, "color": "#8c8c8c"}, {"offset": 0.94, "color": "#262626"}, {"offset": 0.95, "color": "#8c8c8c"},
            {"offset": 0.96, "color": "#262626"}, {"offset": 0.97, "color": "#8c8c8c"}, {"offset": 0.98, "color": "#262626"}, {"offset": 0.99, "color": "#8c8c8c"},
            {"offset": 1, "color": "#262626"}]}},
          "encoding": {"y": {"field": "media", "type": "quantitative"}}
        },
        {
          "transform": [{"filter": "datum.grupo === 'RCS 14 D'"}],
          "mark": {"type": "bar", "fillOpacity": 0.5, "stroke": "black", "strokeWidth": 1, "fill": {"gradient": "linear", "x1": 0, "y1": 1, "x2": 0.326, "y2": -0.185, "stops": [
            {"offset": 0, "color": "#262626"}, {"offset": 0.01, "color": "#8c8c8c"}, {"offset": 0.02, "color": "#262626"}, {"offset": 0.03, "color": "#8c8c8c"},
            {"offset": 0.04, "color": "#262626"}, {"offset": 0.05, "color": "#8c8c8c"}, {"offset": 0.06, "color": "#262626"}, {"offset": 0.07, "color": "#8c8c8c"},
            {"offset": 0.08, "color": "#262626"}, {"offset": 0.09, "color": "#8c8c8c"}, {"offset": 0.1, "color": "#262626"}, {"offset": 0.11, "color": "#8c8c8c"},
            {"offset": 0.12, "color": "#262626"}, {"offset": 0.13, "color": "#8c8c8c"}, {"offset": 0.14, "color": "#262626"}, {"offset": 0.15, "color": "#8c8c8c"},
            {"offset": 0.16, "color": "#262626"}, {"offset": 0.17, "color": "#8c8c8c"}, {"offset": 0.18, "color": "#262626"}, {"offset": 0.19, "color": "#8c8c8c"},
            {"offset": 0.2, "color": "#262626"}, {"offset": 0.21, "color": "#8c8c8c"}, {"offset": 0.22, "color": "#262626"}, {"offset": 0.23, "color": "#8c8c8c"},
            {"offset": 0.24, "color": "#262626"}, {"offset": 0.25, "color": "#8c8c8c"}, {"offset": 0.26, "color": "#262626"}, {"offset": 0.27, "color": "#8c8c8c"},
            {"offset": 0.28, "color": "#262626"}, {"offset": 0.29, "color": "#8c8c8c"}, {"offset": 0.3, "color": "#262626"}, {"offset": 0.31, "color": "#8c8c8c"},
            {"offset": 0.32, "color": "#262626"}, {"offset": 0.33, "color": "#8c8c8c"}, {"offset": 0.34, "color": "#262626"}, {"offset": 0.35, "color": "#8c8c8c"},
            {"offset": 0.36, "color": "#262626"}, {"offset": 0.37, "color": "#8c8c8c"}, {"offset": 0.38, "color": "#262626"}, {"offset": 0.39, "color": "#8c8c8c"},
            {"offset": 0.4, "color": "#262626"}, {"offset": 0.41, "color": "#8c8c8c"}, {"offset": 0.42, "color": "#262626"}, {"offset": 0.43, "color": "#8c8c8c"},
            {"offset": 0.44, "color": "#262626"}, {"offset": 0.45, "color": "#8c8c8c"}, {"offset": 0.46, "color": "#262626"}, {"offset": 0.47, "color": "#8c8c8c"},
            {"offset": 0.48, "color": "#262626"}, {"offset": 0.49, "color": "#8c8c8c"}, {"offset": 0.5, "color": "#262626"}, {"offset": 0.51, "color": "#8c8c8c"},
            {"offset": 0.52, "color": "#262626"}, {"offset": 0.53, "color": "#8c8c8c"}, {"offset": 0.54, "color": "#262626"}, {"offset": 0.55, "color": "#8c8c8c"},
            {"offset": 0.56, "color": "#262626"}, {"offset": 0.57, "color": "#8c8c8c"}, {"offset": 0.58, "color": "#262626"}, {"offset": 0.59, "color": "#8c8c8c"},
            {"offset": 0.6, "color": "#262626"}, {"offset": 0.61, "color": "#8c8c8c"}, {"offset": 0.62, "color": "#262626"}, {"offset": 0.63, "color": "#8c8c8c"},
            {"offset": 0.64, "color": "#262626"}, {"offset": 0.65, "color": "#8c8c8c"}, {"offset": 0.66, "color": "#262626"}, {"offset": 0.67, "color": "#8c8c8c"},
            {"offset": 0.68, "color": "#262626"}, {"offset": 0.69, "color": "#8c8c8c"}, {"offset": 0.7, "color": "#262626"}, {"offset": 0.71, "color": "#8c8c8c"},
            {"offset": 0.72, "color": "#262626"}, {"offset": 0.73, "color": "#8c8c8c"}, {"offset": 0.74, "color": "#262626"}, {"offset": 0.75, "color": "#8c8c8c"},
            {"offset": 0.76, "color": "#262626"}, {"offset": 0.77, "color": "#8c8c8c"}, {"offset": 0.78, "color": "#262626"}, {"offset": 0.79, "color": "#8c8c8c"},
            {"offset": 0.8, "color": "#262626"}, {"offset": 0.81, "color": "#8c8c8c"}, {"offset": 0.82, "color": "#262626"}, {"offset": 0.83, "color": "#8c8c8c"},
            {"offset": 0.84, "color": "#262626"}, {"offset": 0.85, "color": "#8c8c8c"}, {"offset": 0.86, "color": "#262626"}, {"offset": 0.87, "color": "#8c8c8c"},
            {"offset": 0.88, "color": "#262626"}, {"offset": 0.89, "color": "#8c8c8c"}, {"offset": 0.9, "color": "#262626"}, {"offset": 0.91, "color": "#8c8c8c"},
            {"offset": 0.92, "color": "#262626"}, {"offset": 0.93, "color": "#8c8c8c"}, {"offset": 0.94, "color": "#262626"}, {"offset": 0.95, "color": "#8c8c8c"},
            {"offset": 0.96, "color": "#262626"}, {"offset": 0.97, "color": "#8c8c8c"}, {"offset": 0.98, "color": "#262626"}, {"offset": 0.99, "color": "#8c8c8c"},
            {"offset": 1, "color": "#262626"}]}},
          "encoding": {"y": {"field": "media", "type": "quantitative"}}
        },
        {
          "transform": [{"filter": "datum.grupo === 'RCS 21 D'"}],
          "mark": {"type": "bar", "fill": {"gradient": "linear", "x1": 0, "y1": 1, "x2": 0.459, "y2": -0.206, "stops": [
            {"offset": 0, "color": "#c3c3c3"}, {"offset": 0.0114, "color": "#ffffff"}, {"offset": 0.0227, "color": "#c3c3c3"}, {"offset": 0.0341, "color": "#ffffff"},
            {"offset": 0.0455, "color": "#c3c3c3"}, {"offset": 0.0568, "color": "#ffffff"}, {"offset": 0.0682, "color": "#c3c3c3"}, {"offset": 0.0795, "color": "#ffffff"},
            {"offset": 0.0909, "color": "#c3c3c3"}, {"offset": 0.1023, "color": "#ffffff"}, {"offset": 0.1136, "color": "#c3c3c3"}, {"offset": 0.125, "color": "#ffffff"},
            {"offset": 0.1364, "color": "#c3c3c3"}, {"offset": 0.1477, "color": "#ffffff"}, {"offset": 0.1591, "color": "#c3c3c3"}, {"offset": 0.1705, "color": "#ffffff"},
            {"offset": 0.1818, "color": "#c3c3c3"}, {"offset": 0.1932, "color": "#ffffff"}, {"offset": 0.2045, "color": "#c3c3c3"}, {"offset": 0.2159, "color": "#ffffff"},
            {"offset": 0.2273, "color": "#c3c3c3"}, {"offset": 0.2386, "color": "#ffffff"}, {"offset": 0.25, "color": "#c3c3c3"}, {"offset": 0.2614, "color": "#ffffff"},
            {"offset": 0.2727, "color": "#c3c3c3"}, {"offset": 0.2841, "color": "#ffffff"}, {"offset": 0.2955, "color": "#c3c3c3"}, {"offset": 0.3068, "color": "#ffffff"},
            {"offset": 0.3182, "color": "#c3c3c3"}, {"offset": 0.3295, "color": "#ffffff"}, {"offset": 0.3409, "color": "#c3c3c3"}, {"offset": 0.3523, "color": "#ffffff"},
            {"offset": 0.3636, "color": "#c3c3c3"}, {"offset": 0.375, "color": "#ffffff"}, {"offset": 0.3864, "color": "#c3c3c3"}, {"offset": 0.3977, "color": "#ffffff"},
            {"offset": 0.4091, "color": "#c3c3c3"}, {"offset": 0.4205, "color": "#ffffff"}, {"offset": 0.4318, "color": "#c3c3c3"}, {"offset": 0.4432, "color": "#ffffff"},
            {"offset": 0.4545, "color": "#c3c3c3"}, {"offset": 0.4659, "color": "#ffffff"}, {"offset": 0.4773, "color": "#c3c3c3"}, {"offset": 0.4886, "color": "#ffffff"},
            {"offset": 0.5, "color": "#c3c3c3"}, {"offset": 0.5114, "color": "#ffffff"}, {"offset": 0.5227, "color": "#c3c3c3"}, {"offset": 0.5341, "color": "#ffffff"},
            {"offset": 0.5455, "color": "#c3c3c3"}, {"offset": 0.5568, "color": "#ffffff"}, {"offset": 0.5682, "color": "#c3c3c3"}, {"offset": 0.5795, "color": "#ffffff"},
            {"offset": 0.5909, "color": "#c3c3c3"}, {"offset": 0.6023, "color": "#ffffff"}, {"offset": 0.6136, "color": "#c3c3c3"}, {"offset": 0.625, "color": "#ffffff"},
            {"offset": 0.6364, "color": "#c3c3c3"}, {"offset": 0.6477, "color": "#ffffff"}, {"offset": 0.6591, "color": "#c3c3c3"}, {"offset": 0.6705, "color": "#ffffff"},
            {"offset": 0.6818, "color": "#c3c3c3"}, {"offset": 0.6932, "color": "#ffffff"}, {"offset": 0.7045, "color": "#c3c3c3"}, {"offset": 0.7159, "color": "#ffffff"},
            {"offset": 0.7273, "color": "#c3c3c3"}, {"offset": 0.7386, "color": "#ffffff"}, {"offset": 0.75, "color": "#c3c3c3"}, {"offset": 0.7614, "color": "#ffffff"},
            {"offset": 0.7727, "color": "#c3c3c3"}, {"offset": 0.7841, "color": "#ffffff"}, {"offset": 0.7955, "color": "#c3c3c3"}, {"offset": 0.8068, "color": "#ffffff"},
            {"offset": 0.8182, "color": "#c3c3c3"}, {"offset": 0.8295, "color": "#ffffff"}, {"offset": 0.8409, "color": "#c3c3c3"}, {"offset": 0.8523, "color": "#ffffff"},
            {"offset": 0.8636, "color": "#c3c3c3"}, {"offset": 0.875, "color": "#ffffff"}, {"offset": 0.8864, "color": "#c3c3c3"}, {"offset": 0.8977, "color": "#ffffff"},
            {"offset": 0.9091, "color": "#c3c3c3"}, {"offset": 0.9205, "color": "#ffffff"}, {"offset": 0.9318, "color": "#c3c3c3"}, {"offset": 0.9432, "color": "#ffffff"},
            {"offset": 0.9545, "color": "#c3c3c3"}, {"offset": 0.9659, "color": "#ffffff"}, {"offset": 0.9773, "color": "#c3c3c3"}, {"offset": 0.9886, "color": "#ffffff"},
            {"offset": 1, "color": "#c3c3c3"}]}},
          "encoding": {"y": {"field": "media", "type": "quantitative"}}
        },
        {
          "transform": [{"filter": "datum.grupo === 'REC 7 D'"}],
          "mark": {"type": "bar", "stroke": "black", "strokeWidth": 1, "fill": {"gradient": "linear", "x1": 0, "y1": 0, "x2": 0, "y2": 1, "stops": [
            {"offset": 0, "color": "#bdbdbd"},
            {"offset": 0.0321, "color": "#bdbdbd"}, {"offset": 0.0385, "color": "#000000"}, {"offset": 0.0449, "color": "#bdbdbd"},
            {"offset": 0.0705, "color": "#bdbdbd"}, {"offset": 0.0769, "color": "#000000"}, {"offset": 0.0833, "color": "#bdbdbd"},
            {"offset": 0.109, "color": "#bdbdbd"}, {"offset": 0.1154, "color": "#000000"}, {"offset": 0.1218, "color": "#bdbdbd"},
            {"offset": 0.1474, "color": "#bdbdbd"}, {"offset": 0.1538, "color": "#000000"}, {"offset": 0.1602, "color": "#bdbdbd"},
            {"offset": 0.1859, "color": "#bdbdbd"}, {"offset": 0.1923, "color": "#000000"}, {"offset": 0.1987, "color": "#bdbdbd"},
            {"offset": 0.2244, "color": "#bdbdbd"}, {"offset": 0.2308, "color": "#000000"}, {"offset": 0.2372, "color": "#bdbdbd"},
            {"offset": 0.2628, "color": "#bdbdbd"}, {"offset": 0.2692, "color": "#000000"}, {"offset": 0.2756, "color": "#bdbdbd"},
            {"offset": 0.3013, "color": "#bdbdbd"}, {"offset": 0.3077, "color": "#000000"}, {"offset": 0.3141, "color": "#bdbdbd"},
            {"offset": 0.3398, "color": "#bdbdbd"}, {"offset": 0.3462, "color": "#000000"}, {"offset": 0.3526, "color": "#bdbdbd"},
            {"offset": 0.3782, "color": "#bdbdbd"}, {"offset": 0.3846, "color": "#000000"}, {"offset": 0.391, "color": "#bdbdbd"},
            {"offset": 0.4167, "color": "#bdbdbd"}, {"offset": 0.4231, "color": "#000000"}, {"offset": 0.4295, "color": "#bdbdbd"},
            {"offset": 0.4551, "color": "#bdbdbd"}, {"offset": 0.4615, "color": "#000000"}, {"offset": 0.4679, "color": "#bdbdbd"},
            {"offset": 0.4936, "color": "#bdbdbd"}, {"offset": 0.5, "color": "#000000"}, {"offset": 0.5064, "color": "#bdbdbd"},
            {"offset": 0.5321, "color": "#bdbdbd"}, {"offset": 0.5385, "color": "#000000"}, {"offset": 0.5449, "color": "#bdbdbd"},
            {"offset": 0.5705, "color": "#bdbdbd"}, {"offset": 0.5769, "color": "#000000"}, {"offset": 0.5833, "color": "#bdbdbd"},
            {"offset": 0.609, "color": "#bdbdbd"}, {"offset": 0.6154, "color": "#000000"}, {"offset": 0.6218, "color": "#bdbdbd"},
            {"offset": 0.6474, "color": "#bdbdbd"}, {"offset": 0.6538, "color": "#000000"}, {"offset": 0.6602, "color": "#bdbdbd"},
            {"offset": 0.6859, "color": "#bdbdbd"}, {"offset": 0.6923, "color": "#000000"}, {"offset": 0.6987, "color": "#bdbdbd"},
            {"offset": 0.7244, "color": "#bdbdbd"}, {"offset": 0.7308, "color": "#000000"}, {"offset": 0.7372, "color": "#bdbdbd"},
            {"offset": 0.7628, "color": "#bdbdbd"}, {"offset": 0.7692, "color": "#000000"}, {"offset": 0.7756, "color": "#bdbdbd"},
            {"offset": 0.8013, "color": "#bdbdbd"}, {"offset": 0.8077, "color": "#000000"}, {"offset": 0.8141, "color": "#bdbdbd"},
            {"offset": 0.8398, "color": "#bdbdbd"}, {"offset": 0.8462, "color": "#000000"}, {"offset": 0.8526, "color": "#bdbdbd"},
            {"offset": 0.8782, "color": "#bdbdbd"}, {"offset": 0.8846, "color": "#000000"}, {"offset": 0.891, "color": "#bdbdbd"},
            {"offset": 0.9167, "color": "#bdbdbd"}, {"offset": 0.9231, "color": "#000000"}, {"offset": 0.9295, "color": "#bdbdbd"},
            {"offset": 0.9551, "color": "#bdbdbd"}, {"offset": 0.9615, "color": "#000000"}, {"offset": 0.9679, "color": "#bdbdbd"},
            {"offset": 1, "color": "#bdbdbd"}]}},
          "encoding": {"y": {"field": "media", "type": "quantitative"}}
        },
        {
          "transform": [{"filter": "isValid(datum.sup)"}],
          "mark": {"type": "rule", "color": "black", "strokeWidth": 1},
          "encoding": {"y": {"field": "media", "type": "quantitative"}, "y2": {"field": "sup"}}
        },
        {
          "transform": [{"filter": "isValid(datum.sup)"}],
          "mark": {"type": "tick", "color": "black", "size": 13, "thickness": 1, "orient": "horizontal"},
          "encoding": {"y": {"field": "sup", "type": "quantitative"}}
        },
        {
          "mark": {"type": "text", "fontSize": 13, "angle": 270, "align": "center", "baseline": "middle", "dy": -145},
          "encoding": {"x": {"datum": "CONTROL"}, "y": {"datum": 330}, "text": {"value": "SI"}}
        },
        {
          "mark": {"type": "text", "fontSize": 24, "fontWeight": "bold", "align": "center", "baseline": "middle", "dx": 55, "dy": 30},
          "encoding": {"x": {"datum": "REC 14 D"}, "y": {"datum": 1000}, "text": {"value": "C"}}
        }
      ]
    }
  ]
}
